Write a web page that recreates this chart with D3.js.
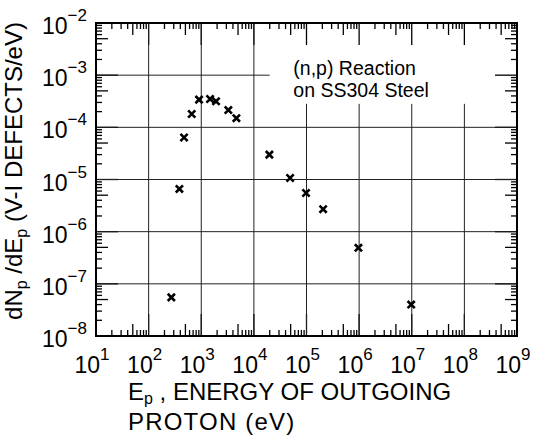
<!DOCTYPE html>
<html>
<head>
<meta charset="utf-8">
<script src="https://d3js.org/d3.v7.min.js"></script>
<style>
  body { margin: 0; background: #fff; }
  text { font-family: "Liberation Sans", Arial, sans-serif; fill: #000; }
</style>
</head>
<body>
<svg id="chart" width="537" height="438"></svg>
<script>
// proton energy (eV) and defect yield
var energies = [270, 384, 471, 659, 908, 1470, 1910, 3270, 4650, 19700, 48800, 98000, 207000, 970000, 9.75e6];
var defects  = [5.5e-8, 6.6e-6, 6.4e-5, 1.8e-4, 3.4e-4, 3.5e-4, 3.15e-4, 2.14e-4, 1.5e-4, 3.0e-5, 1.07e-5, 5.5e-6, 2.7e-6, 4.9e-7, 4.0e-8];

var xTickExps = [1, 2, 3, 4, 5, 6, 7, 8, 9];
var yTickExps = [-8, -7, -6, -5, -4, -3, -2];
var noteLines = ["(n,p) Reaction", "on SS304 Steel"];

var W = 421, H = 313;
var svg = d3.select("#chart");
var g = svg.append("g").attr("transform", "translate(96,23)");

var x = d3.scaleLog().domain([1e1, 1e9]).range([0, W]);
var y = d3.scaleLog().domain([1e-8, 1e-2]).range([H, 0]);

// minor ticks on all four sides, pointing inwards
function tickLen(m) { return m === 1 ? 22 : (m === 5 ? 12 : 6); }
var xMinor = [], yMinor = [];
xTickExps.forEach(function (e) {
  for (var m = 1; m < 10; m++) {
    if (e === 9 && m > 1) break;
    xMinor.push({ v: m * Math.pow(10, e), m: m });
  }
});
yTickExps.forEach(function (e) {
  for (var m = 1; m < 10; m++) {
    if (e === -2 && m > 1) break;
    yMinor.push({ v: m * Math.pow(10, e), m: m });
  }
});

g.selectAll(null).data(xMinor).enter().append("line")
  .attr("x1", function (d) { return x(d.v); })
  .attr("x2", function (d) { return x(d.v); })
  .attr("y1", 0)
  .attr("y2", function (d) { return tickLen(d.m); })
  .attr("stroke", "#000").attr("stroke-width", 1.3);
g.selectAll(null).data(xMinor).enter().append("line")
  .attr("x1", function (d) { return x(d.v); })
  .attr("x2", function (d) { return x(d.v); })
  .attr("y1", H)
  .attr("y2", function (d) { return H - tickLen(d.m); })
  .attr("stroke", "#000").attr("stroke-width", 1.3);
g.selectAll(null).data(yMinor).enter().append("line")
  .attr("y1", function (d) { return y(d.v); })
  .attr("y2", function (d) { return y(d.v); })
  .attr("x1", 0)
  .attr("x2", function (d) { return tickLen(d.m); })
  .attr("stroke", "#000").attr("stroke-width", 1.3);
g.selectAll(null).data(yMinor).enter().append("line")
  .attr("y1", function (d) { return y(d.v); })
  .attr("y2", function (d) { return y(d.v); })
  .attr("x1", W)
  .attr("x2", function (d) { return W - tickLen(d.m); })
  .attr("stroke", "#000").attr("stroke-width", 1.3);

// the note sits in the upper right, grid lines are left out there
var gapX = Math.pow(10, 4.3), gapY = Math.pow(10, -3.55);

// grid
xTickExps.slice(1, -1).forEach(function (e) {
  var v = Math.pow(10, e);
  g.append("line")
    .attr("x1", x(v)).attr("x2", x(v))
    .attr("y1", v > gapX ? y(gapY) : 0).attr("y2", H)
    .attr("stroke", "#222").attr("stroke-width", 1);
});
yTickExps.slice(1, -1).forEach(function (e) {
  var v = Math.pow(10, e);
  g.append("line")
    .attr("y1", y(v)).attr("y2", y(v))
    .attr("x1", 0).attr("x2", v > gapY ? x(gapX) : W)
    .attr("stroke", "#222").attr("stroke-width", 1);
});

// frame
g.append("rect")
  .attr("width", W).attr("height", H)
  .attr("fill", "none").attr("stroke", "#000").attr("stroke-width", 2);

// tick labels
xTickExps.forEach(function (e) {
  var t = g.append("text")
    .attr("x", x(Math.pow(10, e)) - 4).attr("y", H + 37)
    .attr("text-anchor", "middle")
    .style("font-size", "23px");
  t.append("tspan").text("10");
  t.append("tspan").attr("dy", -13).style("font-size", "17px").text(e);
});
yTickExps.forEach(function (e) {
  var t = g.append("text")
    .attr("x", -9).attr("y", y(Math.pow(10, e)) + 11)
    .attr("text-anchor", "end")
    .style("font-size", "23px");
  t.append("tspan").text("10");
  t.append("tspan").attr("dy", -13).style("font-size", "17px").text("\u2212" + Math.abs(e));
});

// note
noteLines.forEach(function (s, i) {
  g.append("text")
    .attr("x", x(Math.pow(10, 4.75))).attr("y", 52 + i * 22)
    .style("font-size", "19.5px")
    .text(s);
});

// points as bold crosses
var r = 3.6;
g.append("g").selectAll("path")
  .data(energies.map(function (e, i) { return [e, defects[i]]; }))
  .enter().append("path")
  .attr("transform", function (d) { return "translate(" + x(d[0]) + "," + y(d[1]) + ")"; })
  .attr("d", "M" + (-r) + "," + (-r) + "L" + r + "," + r + "M" + (-r) + "," + r + "L" + r + "," + (-r))
  .attr("stroke", "#000").attr("stroke-width", 2.6).attr("fill", "none");

// axis titles
var xt = svg.append("text").attr("x", 128).attr("y", 400).style("font-size", "24px");
xt.append("tspan").text("E");
xt.append("tspan").attr("dy", 4).style("font-size", "16px").text("p");
xt.append("tspan").attr("dy", -4).text(" , ENERGY OF OUTGOING");
svg.append("text").attr("x", 128).attr("y", 430).style("font-size", "24px")
  .style("letter-spacing", "1.2px").text("PROTON  (eV)");

var yt = svg.append("text")
  .attr("transform", "translate(22,171) rotate(-90)")
  .attr("text-anchor", "middle")
  .style("font-size", "24px");
yt.append("tspan").text("dN");
yt.append("tspan").attr("dy", 5).style("font-size", "16px").text("p");
yt.append("tspan").attr("dy", -5).text(" /dE");
yt.append("tspan").attr("dy", 5).style("font-size", "16px").text("p");
yt.append("tspan").attr("dy", -5).text("  (V-I DEFECTS/eV)");
</script>
</body>
</html>
